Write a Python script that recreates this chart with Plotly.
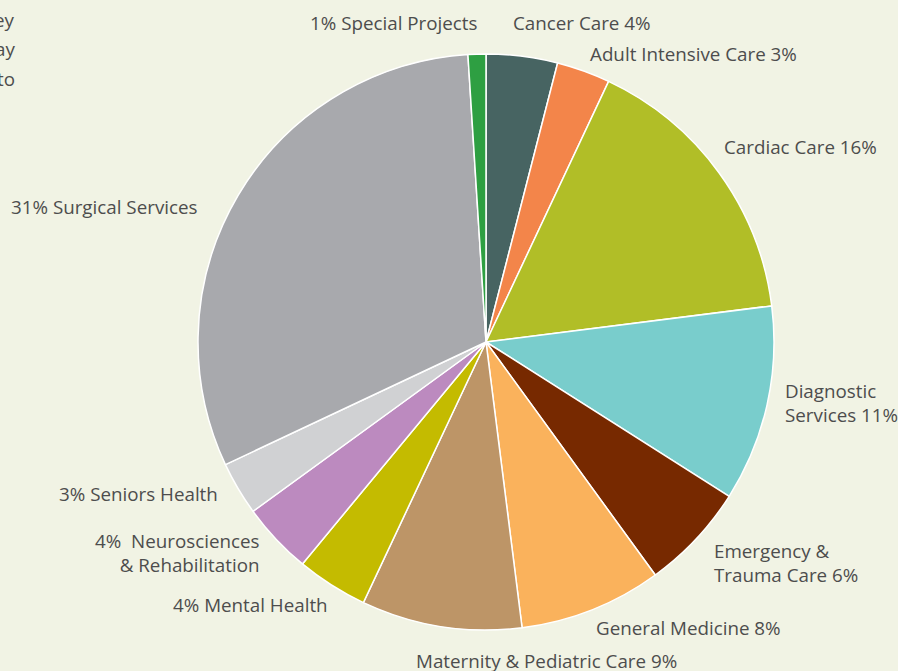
import plotly.graph_objects as go

W, H = 898, 671

categories = ["Cancer Care", "Adult Intensive Care", "Cardiac Care", "Diagnostic Services",
              "Emergency & Trauma Care", "General Medicine", "Maternity & Pediatric Care",
              "Mental Health", "Neurosciences & Rehabilitation", "Seniors Health",
              "Surgical Services", "Special Projects"]
values = [4, 3, 16, 11, 6, 8, 9, 4, 4, 3, 31, 1]
colors = ["#476462", "#f3854a", "#b1be27", "#79cdcc", "#772900", "#fab25c",
          "#bd9567", "#c4bb00", "#bc8abf", "#d0d1d3", "#a8a9ad", "#2e9f42"]
label_texts = ["Cancer Care 4%", "Adult Intensive Care 3%", "Cardiac Care 16%",
               "Diagnostic<br>Services 11%", "Emergency &<br>Trauma Care 6%",
               "General Medicine 8%", "Maternity & Pediatric Care 9%",
               "4% Mental Health", "4%  Neurosciences<br>& Rehabilitation",
               "3% Seniors Health", "31% Surgical Services", "1% Special Projects"]

# label anchor positions in pixels (x, y-center, anchor)
label_pos = [(511, 23, "left"), (588, 54, "left"), (722, 147, "left"),
             (783, 403, "left"), (712, 563, "left"), (594, 628, "left"),
             (414, 661, "left"), (330, 605, "right"), (261, 553, "right"),
             (220, 494, "right"), (200, 207, "right"), (480, 23, "right")]

cx, cy, r = 486, 342, 288

fig = go.Figure(go.Pie(
    labels=categories, values=values, sort=False, direction="clockwise",
    rotation=0, textinfo="none", hoverinfo="label+percent",
    marker=dict(colors=colors, line=dict(color="white", width=1.5)),
    domain=dict(x=[(cx - r) / W, (cx + r) / W], y=[1 - (cy + r) / H, 1 - (cy - r) / H]),
    showlegend=False,
))

font = dict(family="Open Sans, sans-serif", size=18.8, color="#4d4d4d")
anns = []
for txt, (x, y, anc) in zip(label_texts, label_pos):
    anns.append(dict(text=txt, x=x / W, y=1 - y / H, xref="paper", yref="paper",
                     xanchor=anc, yanchor="middle", align=anc, showarrow=False, font=font))
for txt, y in [("ey", 20), ("ay", 49), ("to", 79)]:
    anns.append(dict(text=txt, x=17 / W, y=1 - y / H, xref="paper", yref="paper",
                     xanchor="right", yanchor="middle", showarrow=False, font=font))

fig.update_layout(width=W, height=H, margin=dict(l=0, r=0, t=0, b=0),
                  paper_bgcolor="#f1f3e4", plot_bgcolor="#f1f3e4",
                  annotations=anns)
fig.write_html("out.html", config={"displayModeBar": False},
               post_script="document.body.style.margin='0';document.body.style.overflow='hidden';")
